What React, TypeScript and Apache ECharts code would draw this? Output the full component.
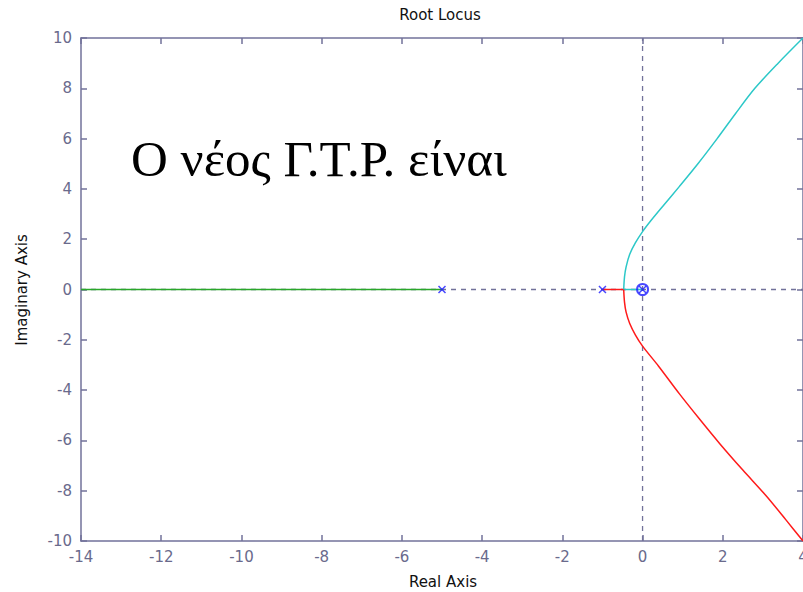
import React, { useEffect, useRef } from "react";
import * as echarts from "echarts";

const xTickMin = -14;
const xTickMax = 4;
const yTickMin = -10;
const yTickMax = 10;

const poles: number[][] = [[-5, 0], [-1, 0], [0, 0]];
const zeros: number[][] = [[0, 0]];

const branchGreen: number[][] = [[-5, 0], [-14, 0]];
const branchRedReal: number[][] = [[-1, 0], [-0.47, 0]];
const branchCyanReal: number[][] = [[0, 0], [-0.47, 0]];
const branchCyanUpper: number[][] = [
  [-0.47, 0], [-0.45, 0.5], [-0.41, 0.9], [-0.32, 1.4], [-0.18, 1.85], [0, 2.3],
  [0.2, 2.72], [0.5, 3.3], [0.92, 4.1], [1.38, 5.0], [1.86, 6.0], [2.32, 7.0],
  [2.8, 8.0], [3.38, 9.0], [4, 10],
];
const branchRedLower: number[][] = [
  [-0.47, 0], [-0.45, -0.5], [-0.41, -0.9], [-0.32, -1.35], [-0.18, -1.8], [0, -2.25],
  [0.4, -3.05], [0.92, -4.15], [1.42, -5.15], [1.92, -6.12], [2.5, -7.18],
  [3.08, -8.2], [3.58, -9.17], [4, -10],
];
const zeroLineX: number[][] = [[-14, 0], [4, 0]];
const zeroLineY: number[][] = [[0, -10], [0, 10]];

const axisColor = "#72729a";
const labelColor = "#6a6a8c";
const font = "DejaVu Sans";
const W = 803;
const H = 592;

export default function App() {
  const ref = useRef<HTMLDivElement>(null);
  useEffect(() => {
    if (!ref.current) return;
    const chart = echarts.init(ref.current, null, { renderer: "svg", width: W, height: H });
    const xBase = {
      type: "value" as const,
      min: xTickMin,
      max: xTickMax,
      interval: 2,
      splitLine: { show: false },
      axisLine: { show: true, onZero: false, lineStyle: { color: axisColor, width: 1.5 } },
      axisTick: { show: true, inside: true, length: 6, lineStyle: { color: axisColor, width: 1.5 } },
    };
    const yBase = {
      type: "value" as const,
      min: yTickMin,
      max: yTickMax,
      interval: 2,
      splitLine: { show: false },
      axisLine: { show: true, onZero: false, lineStyle: { color: axisColor, width: 1.5 } },
      axisTick: { show: true, inside: true, length: 6, lineStyle: { color: axisColor, width: 1.5 } },
    };
    const lineSeries = (data: number[][], color: string, z = 3) => ({
      type: "line" as const,
      data,
      showSymbol: false,
      symbol: "none",
      smooth: 0.3,
      lineStyle: { color, width: 1.5 },
      z,
      silent: true,
    });
    chart.setOption({
      animation: false,
      backgroundColor: "#ffffff",
      textStyle: { fontFamily: font },
      grid: {
        left: 81,
        top: 38,
        right: 0,
        bottom: 51,
        containLabel: false,
        outerBoundsMode: "none",
      },
      xAxis: [
        {
          ...xBase,
          position: "bottom",
          axisLabel: { show: true, color: labelColor, fontFamily: font, fontSize: 15, margin: 8 },
        },
        { ...xBase, position: "top", axisLabel: { show: false } },
      ],
      yAxis: [
        {
          ...yBase,
          position: "left",
          axisLabel: { show: true, color: labelColor, fontFamily: font, fontSize: 15, margin: 9 },
        },
        { ...yBase, position: "right", axisLabel: { show: false } },
      ],
      series: [
        {
          type: "line",
          data: zeroLineX,
          symbol: "none",
          lineStyle: { color: axisColor, width: 1.3, type: [5, 5] },
          z: 1,
          silent: true,
        },
        {
          type: "line",
          data: zeroLineY,
          symbol: "none",
          lineStyle: { color: axisColor, width: 1.3, type: [5, 5] },
          z: 1,
          silent: true,
        },
        lineSeries(branchGreen, "#2aa82a"),
        lineSeries(branchRedReal, "#ff1a1a"),
        lineSeries(branchCyanReal, "#2cc8c8"),
        lineSeries(branchCyanUpper, "#2cc8c8"),
        lineSeries(branchRedLower, "#ff1a1a"),
        {
          type: "scatter",
          data: poles,
          symbol: "path://M0,0L10,10M10,0L0,10",
          symbolSize: 7,
          itemStyle: { color: "transparent", borderColor: "#1a1aff", borderWidth: 1.5 },
          z: 5,
          silent: true,
        },
        {
          type: "scatter",
          data: zeros,
          symbol: "circle",
          symbolSize: 11,
          itemStyle: { color: "transparent", borderColor: "#1a1aff", borderWidth: 2 },
          z: 6,
          silent: true,
        },
      ],
      graphic: [
        {
          type: "text",
          x: 440,
          y: 15,
          style: {
            text: "Root Locus",
            fontFamily: font,
            fontSize: 15,
            fill: "#111",
            align: "center",
            verticalAlign: "middle",
          },
        },
        {
          type: "text",
          x: 443,
          y: 582,
          style: {
            text: "Real Axis",
            fontFamily: font,
            fontSize: 15,
            fill: "#111",
            align: "center",
            verticalAlign: "middle",
          },
        },
        {
          type: "text",
          x: 22,
          y: 290,
          rotation: Math.PI / 2,
          style: {
            text: "Imaginary Axis",
            fontFamily: font,
            fontSize: 15,
            fill: "#111",
            align: "center",
            verticalAlign: "middle",
          },
        },
        {
          type: "text",
          x: 131,
          y: 159,
          z: 10,
          style: {
            text: "Ο νέος Γ.Τ.Ρ. είναι",
            fontFamily: "Liberation Serif",
            fontSize: 51,
            fill: "#000",
            align: "left",
            verticalAlign: "middle",
          },
        },
      ],
    });
    return () => chart.dispose();
  }, []);
  return (
    <div
      ref={ref}
      style={{ position: "fixed", left: 0, top: 0, width: W, height: H, background: "#fff" }}
    />
  );
}
